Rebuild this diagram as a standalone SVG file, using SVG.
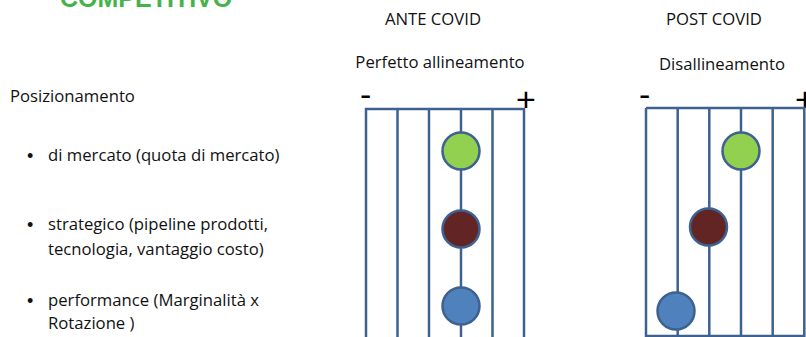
<svg xmlns="http://www.w3.org/2000/svg" width="806" height="337" viewBox="0 0 806 337">
  <defs>
    <style>
      .txt { font-family: "Open Sans", "Liberation Sans", sans-serif; font-size: 16.7px; fill: #111111; }
      .bullet { font-family: "Liberation Sans", sans-serif; font-size: 18px; fill: #111111; }
      .title { font-family: "Liberation Sans", sans-serif; font-weight: bold; font-size: 25px; fill: #45b34a; }
      .sign { font-family: "Liberation Sans", sans-serif; font-size: 34px; fill: #000; }
      .grid line, .grid polyline { stroke: #3d6191; stroke-width: 2.5; fill: none; }
      .dot { stroke: #3d6191; stroke-width: 2.5; }
      .green { fill: #92d050; }
      .red { fill: #632523; }
      .blue { fill: #4f81bd; }
    </style>
  </defs>

  <rect width="806" height="337" fill="#ffffff"/>

  <!-- heading, cut by the top edge -->
  <text class="title" x="60" y="7">COMPETITIVO</text>

  <!-- left list -->
  <g id="list">
    <text class="txt" x="10" y="102">Posizionamento</text>
    <text class="bullet" x="27" y="162">•</text>
    <text class="txt" x="48" y="161">di mercato (quota di mercato)</text>
    <text class="bullet" x="27" y="231">•</text>
    <text class="txt" x="48" y="230">strategico (pipeline prodotti,</text>
    <text class="txt" x="48" y="255">tecnologia, vantaggio costo)</text>
    <text class="bullet" x="27" y="307">•</text>
    <text class="txt" x="48" y="306">performance (Marginalità x</text>
    <text class="txt" x="48" y="329">Rotazione )</text>
  </g>

  <!-- ANTE COVID panel -->
  <g id="ante">
    <text class="txt" x="433" y="25" text-anchor="middle">ANTE COVID</text>
    <text class="txt" x="440" y="68" text-anchor="middle">Perfetto allineamento</text>
    <text class="sign" x="360" y="106">-</text>
    <text class="sign" x="516" y="111">+</text>
    <g class="grid">
      <polyline points="366,345 366,109 524,109 524,345"/>
      <line x1="397.5" y1="109" x2="397.5" y2="345"/>
      <line x1="429" y1="109" x2="429" y2="345"/>
      <line x1="461" y1="109" x2="461" y2="345"/>
      <line x1="492.5" y1="109" x2="492.5" y2="345"/>
    </g>
    <g id="ante-dots">
      <circle class="dot green" cx="461" cy="151" r="18.5"/>
      <circle class="dot red" cx="461" cy="229" r="18.5"/>
      <circle class="dot blue" cx="461" cy="306" r="18.5"/>
    </g>
  </g>

  <!-- POST COVID panel -->
  <g id="post">
    <text class="txt" x="714" y="25" text-anchor="middle">POST COVID</text>
    <text class="txt" x="722" y="70" text-anchor="middle">Disallineamento</text>
    <text class="sign" x="639" y="106">-</text>
    <text class="sign" x="795" y="111">+</text>
    <g class="grid">
      <polyline points="646,108 646,336 804.3,336 804.3,108 646,108"/>
      <line x1="677.7" y1="108" x2="677.7" y2="336"/>
      <line x1="709.3" y1="108" x2="709.3" y2="336"/>
      <line x1="741" y1="108" x2="741" y2="336"/>
      <line x1="772.7" y1="108" x2="772.7" y2="336"/>
    </g>
    <g id="post-dots">
      <circle class="dot green" cx="741" cy="151" r="18.5"/>
      <circle class="dot red" cx="708.5" cy="227" r="18.5"/>
      <circle class="dot blue" cx="676" cy="311" r="18.5"/>
    </g>
  </g>
</svg>
